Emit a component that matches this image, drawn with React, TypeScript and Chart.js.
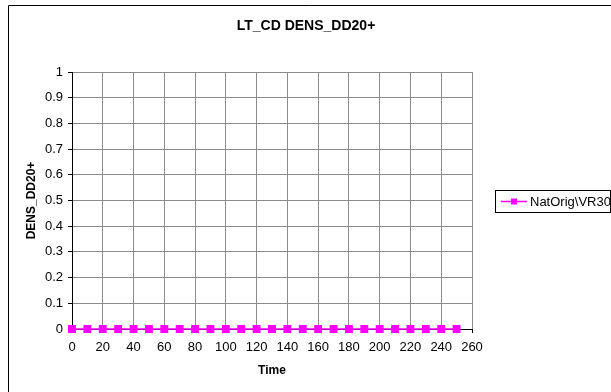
import { useEffect, useRef } from "react";
import { Chart, registerables } from "chart.js";

Chart.register(...registerables);

const chartTitle = "LT_CD DENS_DD20+";
const seriesLabel = "NatOrig\\VR30";
const xAxisTitle = "Time";
const yAxisTitle = "DENS_DD20+";
const timeValues = [0, 10, 20, 30, 40, 50, 60, 70, 80, 90, 100, 110, 120, 130, 140, 150, 160, 170, 180, 190, 200, 210, 220, 230, 240, 250];
const densValues = [0, 0, 0, 0, 0, 0, 0, 0, 0, 0, 0, 0, 0, 0, 0, 0, 0, 0, 0, 0, 0, 0, 0, 0, 0, 0];
const xTickMin = 0;
const xTickMax = 260;
const xTickStep = 20;
const yTickMin = 0;
const yTickMax = 1;
const yTickStep = 0.1;

const FONT = "Arial, 'Liberation Sans', sans-serif";
const SERIES_COLOR = "#FF00FF";

const framePlugin = {
  id: "frameTitleLegend",
  afterDraw(chart: any) {
    const ctx = chart.ctx as CanvasRenderingContext2D;
    ctx.save();
    // outer chart border (left and top visible)
    ctx.strokeStyle = "#000";
    ctx.lineWidth = 1;
    ctx.beginPath();
    ctx.moveTo(8.5, 392);
    ctx.lineTo(8.5, 5.5);
    ctx.lineTo(611, 5.5);
    ctx.stroke();

    // chart title
    ctx.fillStyle = "#000";
    ctx.font = `bold 14px ${FONT}`;
    ctx.textAlign = "center";
    ctx.textBaseline = "middle";
    ctx.fillText(chartTitle, 306, 26);

    // legend
    const ds = chart.data.datasets[0];
    ctx.strokeStyle = "#000";
    ctx.strokeRect(495.5, 190.5, 115, 22);
    ctx.strokeStyle = ds.borderColor;
    ctx.lineWidth = 1.5;
    ctx.beginPath();
    ctx.moveTo(501, 201.5);
    ctx.lineTo(527, 201.5);
    ctx.stroke();
    ctx.fillStyle = ds.pointBackgroundColor;
    ctx.fillRect(511, 198.5, 6, 6);
    ctx.fillStyle = "#000";
    ctx.font = `13px ${FONT}`;
    ctx.textAlign = "left";
    ctx.fillText(ds.label, 530, 202);
    ctx.restore();
  },
};

export default function App() {
  const canvasRef = useRef<HTMLCanvasElement | null>(null);

  useEffect(() => {
    if (!canvasRef.current) return;
    Chart.defaults.font.family = FONT;
    Chart.defaults.color = "#000";
    const chart = new Chart(canvasRef.current, {
      type: "line",
      data: {
        datasets: [
          {
            label: seriesLabel,
            data: timeValues.map((t, i) => ({ x: t, y: densValues[i] })),
            borderColor: SERIES_COLOR,
            backgroundColor: SERIES_COLOR,
            pointBackgroundColor: SERIES_COLOR,
            pointBorderColor: SERIES_COLOR,
            pointStyle: "rect",
            pointRadius: 4.5,
            borderWidth: 1.5,
            clip: false as any,
          },
        ],
      },
      plugins: [framePlugin],
      options: {
        animation: false,
        responsive: false,
        devicePixelRatio: 1,
        layout: { padding: { left: 9, right: 139, top: 72, bottom: 0 } },
        plugins: {
          legend: { display: false },
          title: { display: false },
          tooltip: { enabled: false },
        },
        scales: {
          x: {
            type: "linear",
            min: xTickMin,
            max: xTickMax,
            afterFit: (s: any) => {
              s.height = 63;
            },
            ticks: {
              stepSize: xTickStep,
              padding: 7,
              font: { size: 13 },
              color: "#000",
              maxRotation: 0,
            },
            grid: {
              color: "#8c8c8c",
              tickColor: "#000",
              tickLength: 4,
            },
            border: { color: "#000" },
            title: {
              display: true,
              text: xAxisTitle,
              font: { size: 12, weight: "bold" },
              color: "#000",
              padding: { top: 0, bottom: 14 },
            },
          },
          y: {
            type: "linear",
            min: yTickMin,
            max: yTickMax,
            afterFit: (s: any) => {
              s.width = 63;
            },
            ticks: {
              stepSize: yTickStep,
              padding: 5,
              font: { size: 13 },
              color: "#000",
              callback: (v: any) => String(Number(Number(v).toFixed(1))),
            },
            grid: {
              color: "#8c8c8c",
              tickColor: "#000",
              tickLength: 4,
            },
            border: { color: "#000" },
            title: {
              display: true,
              text: yAxisTitle,
              font: { size: 12, weight: "bold" },
              color: "#000",
              padding: { top: 15, bottom: 0 },
            },
          },
        },
      },
    });
    return () => chart.destroy();
  }, []);

  return (
    <div style={{ position: "fixed", left: 0, top: 0, width: 611, height: 392, background: "#fff" }}>
      <canvas ref={canvasRef} width={611} height={392} style={{ display: "block" }} />
    </div>
  );
}
